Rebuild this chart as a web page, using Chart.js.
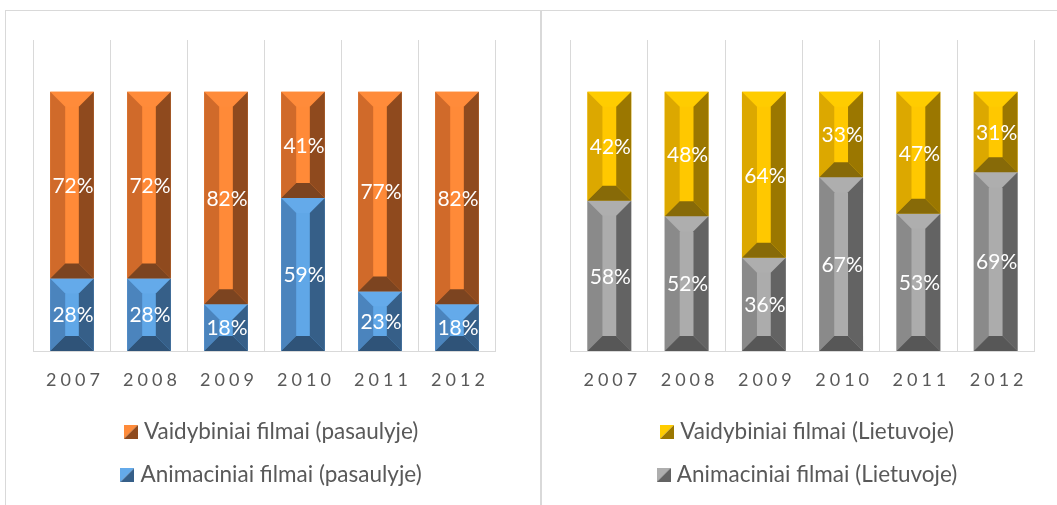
<!DOCTYPE html>
<html>
<head>
<meta charset="utf-8">
<script src="https://cdn.jsdelivr.net/npm/chart.js@4/dist/chart.umd.min.js"></script>
<style>
  html, body { margin: 0; padding: 0; background: #fff; }
  .box { position: absolute; top: 10px; height: 495px; border-top: 1px solid #d9d9d9; }
  #boxWorld { left: 5px; width: 535px; border-left: 1px solid #d9d9d9; }
  #boxLt { left: 540px; width: 517px; border-left: 2px solid #d9d9d9; }
  canvas { display: block; }
</style>
</head>
<body>
<div class="box" id="boxWorld"><canvas id="worldChart" width="535" height="494"></canvas></div>
<div class="box" id="boxLt"><canvas id="ltChart" width="515" height="494"></canvas></div>
<script>
const years = ['2007', '2008', '2009', '2010', '2011', '2012'];

// share of films, %
const worldFeature = [72, 72, 82, 41, 77, 82];
const worldAnimated = [28, 28, 18, 59, 23, 18];
const ltFeature = [42, 48, 64, 33, 47, 31];
const ltAnimated = [58, 52, 36, 67, 53, 69];

const FONT = 'Lato';
const TEXT_GREY = '#595959';

// bevel shades: top, left, right, bottom, face
const orange = { top: '#ff8b3a', left: '#d06a2a', right: '#8f4a1e', bottom: '#7c4420', face: '#ff8a38' };
const blue = { top: '#64aaea', left: '#4b84bd', right: '#365f88', bottom: '#2f5378', face: '#60a7e7' };
const yellow = { top: '#ffcc00', left: '#dca800', right: '#9b7700', bottom: '#876a08', face: '#ffc800' };
const grey = { top: '#aeaeae', left: '#8a8a8a', right: '#636363', bottom: '#575757', face: '#acacac' };

function legendSwatch(shade) {
  const c = document.createElement('canvas');
  c.width = 14; c.height = 14;
  const g = c.getContext('2d');
  g.fillStyle = shade.top;
  g.beginPath(); g.moveTo(0, 0); g.lineTo(14, 0); g.lineTo(0, 14); g.closePath(); g.fill();
  g.fillStyle = shade.right;
  g.beginPath(); g.moveTo(14, 0); g.lineTo(14, 14); g.lineTo(0, 14); g.closePath(); g.fill();
  return c;
}

function poly(ctx, pts, color) {
  ctx.fillStyle = color;
  ctx.beginPath();
  ctx.moveTo(pts[0][0], pts[0][1]);
  for (let i = 1; i < pts.length; i++) ctx.lineTo(pts[i][0], pts[i][1]);
  ctx.closePath();
  ctx.fill();
}

// draws every bar segment as a bevelled block, then its value
const bevelBars = {
  id: 'bevelBars',
  afterLayout(chart, args, opts) {
    // nudge the legend block to the right a little
    chart.legend.left += opts.legendShift;
    chart.legend.right += opts.legendShift;
  },
  afterDatasetsDraw(chart) {
    const ctx = chart.ctx;
    ctx.save();
    chart.data.datasets.forEach((ds, di) => {
      const meta = chart.getDatasetMeta(di);
      const shade = ds.shade;
      meta.data.forEach((bar, i) => {
        const p = bar.getProps(['x', 'y', 'base', 'width'], true);
        const L = p.x - p.width / 2, R = p.x + p.width / 2;
        const T = Math.min(p.y, p.base), B = Math.max(p.y, p.base);
        const b = Math.min(15, (B - T) / 2, p.width / 2 - 6);
        poly(ctx, [[L + b, T + b], [R - b, T + b], [R - b, B - b], [L + b, B - b]], shade.face);
        poly(ctx, [[L, T], [R, T], [R - b, T + b], [L + b, T + b]], shade.top);
        poly(ctx, [[L, T], [L + b, T + b], [L + b, B - b], [L, B]], shade.left);
        poly(ctx, [[R, T], [R, B], [R - b, B - b], [R - b, T + b]], shade.right);
        poly(ctx, [[L, B], [R, B], [R - b, B - b], [L + b, B - b]], shade.bottom);

        ctx.fillStyle = '#ffffff';
        ctx.font = '21px ' + FONT;
        ctx.textAlign = 'center';
        ctx.textBaseline = 'middle';
        ctx.fillText(ds.data[i] + '%', p.x + 1, (T + B) / 2 + 1);
      });
    });
    ctx.restore();
  },
  afterDraw(chart) {
    // spaced-out year labels under each column
    const ctx = chart.ctx;
    const xs = chart.scales.x;
    ctx.save();
    ctx.fillStyle = TEXT_GREY;
    ctx.font = '18px ' + FONT;
    ctx.textAlign = 'center';
    ctx.textBaseline = 'middle';
    ctx.letterSpacing = '4px';
    chart.data.labels.forEach((lab, i) => {
      ctx.fillText(lab, xs.getPixelForTick(i) + 3, chart.chartArea.bottom + 29);
    });
    ctx.restore();
  }
};

function makeChart(id, animated, feature, lowShade, highShade, names, pad, shift) {
  return new Chart(document.getElementById(id), {
    type: 'bar',
    data: {
      labels: years,
      datasets: [
        { label: names[0], data: animated, shade: lowShade, backgroundColor: lowShade.face,
          pointStyle: legendSwatch(lowShade), borderWidth: 0 },
        { label: names[1], data: feature, shade: highShade, backgroundColor: highShade.face,
          pointStyle: legendSwatch(highShade), borderWidth: 0 }
      ]
    },
    options: {
      responsive: false,
      animation: false,
      events: [],
      layout: { padding: pad },
      datasets: { bar: { barPercentage: 0.567, categoryPercentage: 1 } },
      scales: {
        x: {
          stacked: true,
          grid: { color: '#d9d9d9', drawTicks: false, offset: true },
          border: { color: '#d9d9d9' },
          ticks: { display: false },
          afterFit: (s) => { s.height = 49.25; }
        },
        y: { stacked: true, display: false, min: 0, max: 120 }
      },
      plugins: {
        tooltip: { enabled: false },
        bevelBars: { legendShift: shift },
        legend: {
          position: 'bottom',
          reverse: true,
          labels: {
            usePointStyle: true,
            pointStyleWidth: 4,
            boxHeight: 14,
            padding: 20.5,
            color: TEXT_GREY,
            font: { family: FONT, size: 22.5 }
          }
        }
      }
    },
    plugins: [bevelBars]
  });
}

makeChart('worldChart', worldAnimated, worldFeature, blue, orange,
  ['Animaciniai filmai (pasaulyje)', 'Vaidybiniai filmai (pasaulyje)'],
  { top: 29, left: 27.5, right: 45.5, bottom: 8.75 }, 9);

makeChart('ltChart', ltAnimated, ltFeature, grey, yellow,
  ['Animaciniai filmai (Lietuvoje)', 'Vaidybiniai filmai (Lietuvoje)'],
  { top: 29, left: 28.7, right: 22.7, bottom: 8.75 }, 7);
</script>
</body>
</html>
